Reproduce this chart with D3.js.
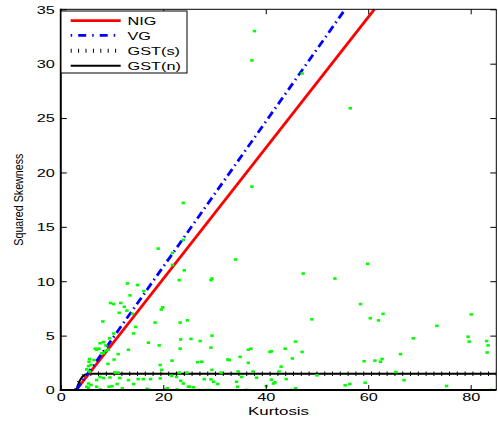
<!DOCTYPE html>
<html>
<head>
<meta charset="utf-8">
<script src="https://cdn.jsdelivr.net/npm/d3@7"></script>
<style>
  html, body { margin: 0; padding: 0; background: #fff; }
  svg { display: block; }
  text { font-family: "Liberation Sans", Arial, Helvetica, sans-serif; }
</style>
</head>
<body>
<svg id="chart" width="498" height="422"></svg>
<script>
// ---------------- data ----------------
const xTicks = [0, 20, 40, 60, 80];
const yTicks = [0, 5, 10, 15, 20, 25, 30, 35];
const xTitle = "Kurtosis";
const yTitle = "Squared Skewness";
const seriesNames = ["NIG", "VG", "GST(s)", "GST(n)"];

// boundary lines (kurtosis, squared skewness)
const nigK = [3, 61.2];
const nigS = [0, 35];
const vgK = [3, 55.5];
const vgS = [0, 35];
const gstK = [3, 3.3, 3.7, 4.1, 4.6, 5.2, 6, 85];
const gstS = [0, 0.4, 0.85, 1.15, 1.38, 1.48, 1.5, 1.5];

// sample points
const ptK = [37.8,37.3,47.1,56.5,37.3,23.9,19.0,21.8,23.9,21.8,24.1,23.1,29.5,29.3,34.1,13.0,15.0,16.2,47.3,53.5,59.9,
 9.7,10.3,11.7,12.4,13.5,11.4,12.9,14.0,19.9,19.6,8.2,18.4,23.3,24.7,14.6,14.2,10.3,9.5,8.3,8.8,7.65,7.0,7.45,8.3,8.8,11.2,13.2,5.6,6.5,5.4,5.9,5.6,17.1,19.2,23.4,23.3,25.4,27.2,29.5,29.3,21.7,19.4,19.7,26.7,27.5,29.5,32.6,35.0,36.6,36.6,32.9,
 58.5,49.0,60.4,62.0,62.9,73.4,80.1,68.8,79.5,79.7,83.1,83.4,83.2,45.8,37.1,43.8,40.8,41.1,47.1,45.2,43.0,37.5,42.6,59.2,61.3,62.4,62.7,66.3,65.4,
 6.7,8.0,9.3,10.4,9.2,5.5,5.05,23.1,24.6,31.3,34.6,10.6,11.2,
 38.2,41.1,41.5,41.8,44.0,40.1,36.5,45.0,45.8,50.0,55.5,56.4,59.4,67.0,75.3,84.0,
 35.3,21.6,14.2,15.1,16.1,17.5,19.4,23.4,23.9,28.0,29.3,29.8,30.6,34.3,34.5,24.9,25.9,27.0,28.6,29.1,22.7,20.5,17.3,36.0,
 7.65,8.3,9.6,11.5,16.8,20.8,9.4,10.0,7.0,7.7,5.4,12.0,5.4,5.9,5.05,7.0,13.2,11.0,22.6,25.1];
const ptS = [33.0,30.3,29.1,25.9,18.7,17.2,13.0,12.6,13.8,11.5,11.0,10.1,10.25,10.1,12.0,9.8,9.65,9.1,10.7,10.25,11.6,
 8.0,7.9,8.0,7.65,8.7,7.1,7.3,7.0,7.6,7.4,6.3,6.2,6.2,6.4,5.8,5.2,5.2,4.75,4.4,4.1,4.3,3.7,3.8,3.4,3.6,3.3,3.7,2.85,2.75,2.2,2.3,1.7,4.35,4.1,4.65,3.8,4.7,4.5,5.0,3.9,2.7,2.3,1.85,2.55,2.6,1.85,2.8,3.05,3.7,2.5,2.75,
 7.9,6.5,6.6,6.4,7.0,5.9,6.95,4.75,4.9,4.45,4.5,4.1,3.45,4.45,3.8,3.8,3.5,3.55,3.5,2.9,2.15,1.7,1.7,2.65,2.7,2.6,2.85,3.3,1.65,
 3.8,3.37,3.7,2.8,2.4,2.6,1.9,1.6,1.6,1.6,1.7,1.6,1.6,
 1.13,0.95,0.6,0.7,1.0,0.37,0.0,0.0,0.15,1.35,0.43,0.55,0.67,0.9,0.37,0.0,
 1.2,1.3,0.55,1.0,1.0,1.0,1.07,0.85,0.6,1.0,0.98,0.76,0.55,0.76,0.3,0.3,0.25,0.0,0.0,0.0,0.05,0.05,0.0,0.0,
 1.2,1.1,1.15,1.1,0.1,0.15,0.3,0.35,0.3,0.05,0.2,0.15,0.6,0.46,0.3,0.92,0.9,0.55,1.2,0.3];

// ---------------- drawing ----------------
const svg = d3.select("#chart");
const FS = 11.8, STRETCH = 1.38;
const x = d3.scaleLinear().domain([0, 85]).range([60.8, 496.3]);
const y = d3.scaleLinear().domain([0, 35]).range([390, 9.3]);

svg.append("defs").append("clipPath").attr("id", "clip")
  .append("rect").attr("x", x(0)).attr("y", y(35))
  .attr("width", x(85) - x(0)).attr("height", y(0) - y(35));

function stretch(sel, f) {
  sel.each(function() {
    const w = this.getComputedTextLength();
    d3.select(this).attr("textLength", w * f).attr("lengthAdjust", "spacingAndGlyphs");
  });
}

const plot = svg.append("g").attr("clip-path", "url(#clip)");
const line = d3.line().x(d => x(d[0])).y(d => y(d[1]));

// GST(n) solid
plot.append("path").datum(gstK.map((k, i) => [k, gstS[i]]))
  .attr("d", line).attr("fill", "none").attr("stroke", "#000").attr("stroke-width", 2);
// GST(s) dotted (tick-like)
plot.append("path").datum(gstK.map((k, i) => [k, gstS[i]]))
  .attr("d", line).attr("fill", "none").attr("stroke", "#000").attr("stroke-width", 4.5)
  .attr("stroke-dasharray", "1,6.8");
// NIG
plot.append("path").datum(nigK.map((k, i) => [k, nigS[i]]))
  .attr("d", line).attr("fill", "none").attr("stroke", "#ff0000").attr("stroke-width", 2.8);
// VG
plot.append("path").datum(vgK.map((k, i) => [k, vgS[i]]))
  .attr("d", line).attr("fill", "none").attr("stroke", "#0000ff").attr("stroke-width", 2.8)
  .attr("stroke-dasharray", "8,4,1.5,4");

// points
plot.selectAll("rect.pt").data(ptK.map((k, i) => [k, ptS[i]])).enter()
  .append("rect").attr("class", "pt")
  .attr("x", d => x(d[0]) - 1.7).attr("y", d => y(d[1]) - 1.3)
  .attr("width", 3.4).attr("height", 2.6).attr("fill", "#00ff00");

// axes
function styleAxis(g) {
  g.select(".domain").remove();
  g.selectAll(".tick line").attr("stroke", "#000").attr("stroke-width", 1);
  g.selectAll("text").attr("font-size", FS).attr("fill", "#000")
    .attr("font-family", "Liberation Sans, Arial, sans-serif");
}
const gl = svg.append("g").attr("transform", `translate(${x(0)},0)`)
  .call(d3.axisLeft(y).tickValues(yTicks).tickSizeInner(-6).tickSizeOuter(0).tickPadding(6));
styleAxis(gl); stretch(gl.selectAll("text"), STRETCH);
const gb = svg.append("g").attr("transform", `translate(0,${y(0)})`)
  .call(d3.axisBottom(x).tickValues(xTicks).tickSizeInner(-5).tickSizeOuter(0).tickPadding(3));
styleAxis(gb); stretch(gb.selectAll("text"), STRETCH);
const gt = svg.append("g").attr("transform", `translate(0,${y(35)})`)
  .call(d3.axisTop(x).tickValues(xTicks).tickSizeInner(-5).tickSizeOuter(0).tickFormat(""));
styleAxis(gt);
const gr = svg.append("g").attr("transform", `translate(${x(85)},0)`)
  .call(d3.axisRight(y).tickValues(yTicks).tickSizeInner(-6).tickSizeOuter(0).tickFormat(""));
styleAxis(gr);

// frame
svg.append("line").attr("x1", x(0)).attr("x2", x(85)).attr("y1", y(35)).attr("y2", y(35)).attr("stroke", "#000").attr("stroke-width", 1);
svg.append("line").attr("x1", x(85)).attr("x2", x(85)).attr("y1", y(35)).attr("y2", y(0)).attr("stroke", "#000").attr("stroke-width", 1);
svg.append("line").attr("x1", x(0)).attr("x2", x(0)).attr("y1", y(35) - 0.5).attr("y2", y(0) + 1).attr("stroke", "#000").attr("stroke-width", 2);
svg.append("line").attr("x1", x(0) - 1).attr("x2", x(85)).attr("y1", y(0)).attr("y2", y(0)).attr("stroke", "#000").attr("stroke-width", 2);

// titles
const xt = svg.append("text").attr("x", (x(0) + x(85)) / 2).attr("y", 415)
  .attr("text-anchor", "middle").attr("font-size", FS).text(xTitle);
stretch(xt, STRETCH + 0.05);
svg.append("text").attr("transform", `translate(22.5,${(y(0) + y(35)) / 2}) rotate(-90)`)
  .attr("text-anchor", "middle").attr("font-size", 12.5)
  .attr("textLength", 92).attr("lengthAdjust", "spacingAndGlyphs").text(yTitle);

// legend
const lg = svg.append("g");
lg.append("rect").attr("x", 61).attr("y", 11).attr("width", 126).attr("height", 62)
  .attr("fill", "#fff").attr("stroke", "#000").attr("stroke-width", 1);
const rowY = [20.7, 35.3, 50.7, 65.7];
const legStyles = [
  { stroke: "#ff0000", w: 2.8, dash: null },
  { stroke: "#0000ff", w: 2.8, dash: "1.5,6,8,6" },
  { stroke: "#000", w: 4, dash: "1,6.4" },
  { stroke: "#000", w: 2, dash: null }
];
seriesNames.forEach((name, i) => {
  const s = legStyles[i];
  const ln = lg.append("line").attr("x1", 70.7).attr("x2", 120.7)
    .attr("y1", rowY[i]).attr("y2", rowY[i])
    .attr("stroke", s.stroke).attr("stroke-width", s.w);
  if (s.dash) ln.attr("stroke-dasharray", s.dash);
  const t = lg.append("text").attr("x", 127.5).attr("y", rowY[i] + 4.3)
    .attr("font-size", FS).text(name);
  stretch(t, STRETCH);
});
</script>
</body>
</html>
